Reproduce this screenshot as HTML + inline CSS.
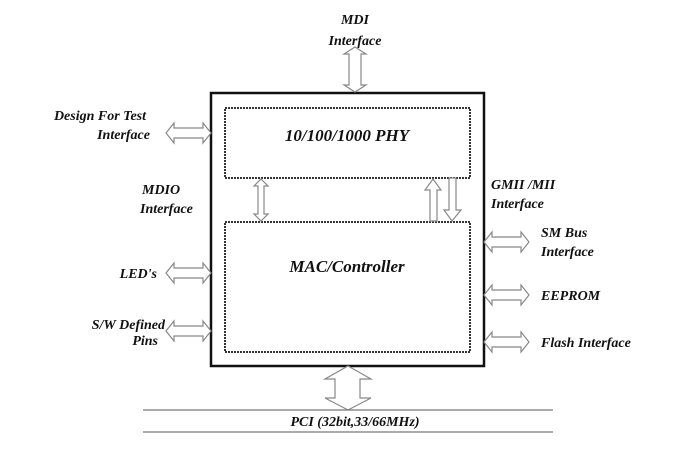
<!DOCTYPE html>
<html><head><meta charset="utf-8"><style>
html,body{margin:0;padding:0;background:#fff;width:698px;height:451px;overflow:hidden}
svg{display:block}
text{font-family:"Liberation Serif",serif;font-weight:bold;font-style:italic;font-size:14px;fill:#111}
.a{fill:#fff;stroke:#888;stroke-width:1.2}
</style></head><body>
<svg width="698" height="451" viewBox="0 0 698 451" xmlns="http://www.w3.org/2000/svg">
<!-- outer box -->
<rect x="211" y="93" width="273" height="273" fill="none" stroke="#111" stroke-width="2.5"/>
<rect x="225" y="108" width="245" height="70" fill="none" stroke="#333" stroke-width="2" stroke-dasharray="2,1"/>
<rect x="225" y="222" width="245" height="130" fill="none" stroke="#333" stroke-width="2" stroke-dasharray="2,1"/>
<text x="347" y="141" text-anchor="middle" style="font-size:17px">10/100/1000 PHY</text>
<text x="347" y="272" text-anchor="middle" style="font-size:17px">MAC/Controller</text>

<!-- horizontal double arrows: left -->
<polygon class="a" points="166,133 174,123 174,128 203,128 203,123 211,133 203,143 203,138 174,138 174,143"/>
<polygon class="a" points="166,273 174,263 174,268 203,268 203,263 211,273 203,283 203,278 174,278 174,283"/>
<polygon class="a" points="166,331 174,321 174,326 203,326 203,321 211,331 203,341 203,336 174,336 174,341"/>
<!-- right -->
<polygon class="a" points="484,242 492,232 492,237 521,237 521,232 529,242 521,252 521,247 492,247 492,252"/>
<polygon class="a" points="484,295 492,285 492,290 521,290 521,285 529,295 521,305 521,300 492,300 492,305"/>
<polygon class="a" points="484,342 492,332 492,337 521,337 521,332 529,342 521,352 521,347 492,347 492,352"/>

<!-- MDI vertical -->
<polygon class="a" points="355,47 366,54 361,54 361,85 366,85 355,92 344,85 349,85 349,54 344,54"/>
<!-- MDIO -->
<polygon class="a" points="261,179 268,186 264,186 264,214 268,214 261,221 254,214 258,214 258,186 254,186"/>
<!-- GMII up -->
<polygon class="a" points="433,179 441,190 437,190 437,221 430,221 430,190 425,190"/>
<!-- GMII down -->
<polygon class="a" points="449,178 456,178 456,210 461,210 452,221 444,210 449,210"/>
<!-- PCI -->
<polygon class="a" points="348,366 371,379 360,379 360,398 371,398 348,410 325,398 335,398 335,379 325,379"/>

<line x1="143" y1="410" x2="553" y2="410" stroke="#777" stroke-width="1.3"/>
<line x1="143" y1="432" x2="553" y2="432" stroke="#777" stroke-width="1.3"/>
<text x="355" y="426" text-anchor="middle">PCI (32bit,33/66MHz)</text>

<text x="355" y="24" text-anchor="middle">MDI</text>
<text x="355" y="45" text-anchor="middle">Interface</text>
<text x="146" y="120" text-anchor="end">Design For Test</text>
<text x="150" y="139" text-anchor="end">Interface</text>
<text x="142" y="194">MDIO</text>
<text x="140" y="213">Interface</text>
<text x="157" y="278" text-anchor="end">LED's</text>
<text x="165" y="329" text-anchor="end">S/W Defined</text>
<text x="158" y="345" text-anchor="end">Pins</text>
<text x="491" y="189">GMII /MII</text>
<text x="491" y="208">Interface</text>
<text x="541" y="237">SM Bus</text>
<text x="541" y="256">Interface</text>
<text x="541" y="300">EEPROM</text>
<text x="541" y="347">Flash Interface</text>
</svg>
</body></html>
